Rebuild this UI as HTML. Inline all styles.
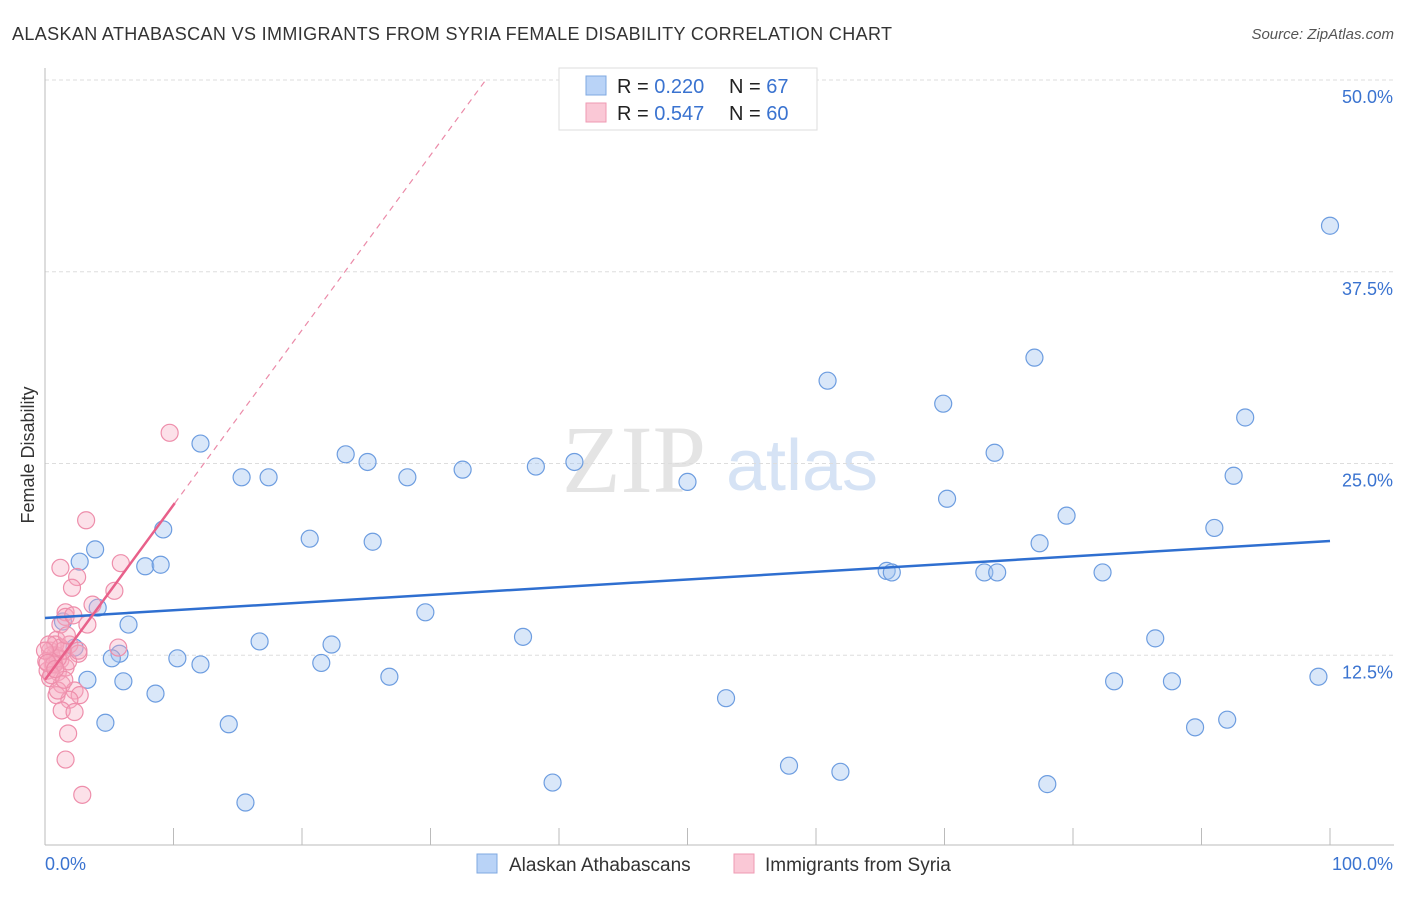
<!DOCTYPE html>
<html><head><meta charset="utf-8"><style>
body{margin:0;background:#fff;font-family:"Liberation Sans",sans-serif}
</style></head><body>
<svg id="c" width="1406" height="892" xmlns="http://www.w3.org/2000/svg" style="font-family:'Liberation Sans',sans-serif">
<text x="12" y="40" font-size="18" fill="#333" textLength="880">ALASKAN ATHABASCAN VS IMMIGRANTS FROM SYRIA FEMALE DISABILITY CORRELATION CHART</text>
<text x="1394" y="39" font-size="15" fill="#555" font-style="italic" text-anchor="end">Source: ZipAtlas.com</text>
<text x="634" y="492" font-size="96" fill="#e4e4e4" text-anchor="middle" font-family="Liberation Serif">ZIP</text>
<text x="802" y="490" font-size="72" fill="#d6e3f5" text-anchor="middle">atlas</text>
<text transform="translate(34,455) rotate(-90)" font-size="18" fill="#333" text-anchor="middle">Female Disability</text>
<g id="grid"></g><g id="pts"></g><g id="lines"></g>
<g>
<rect x="559" y="68" width="258" height="62" fill="#fff" stroke="#ddd"/>
<rect x="586" y="76" width="20" height="19" fill="#b9d3f7" stroke="#7fa8e0"/>
<rect x="586" y="103" width="20" height="19" fill="#fac8d6" stroke="#ef9ab3"/>
<text x="617" y="93" font-size="20" fill="#222">R = <tspan fill="#3a73d0">0.220</tspan></text>
<text x="729" y="93" font-size="20" fill="#222">N = <tspan fill="#3a73d0"> 67</tspan></text>
<text x="617" y="120" font-size="20" fill="#222">R = <tspan fill="#3a73d0">0.547</tspan></text>
<text x="729" y="120" font-size="20" fill="#222">N = <tspan fill="#3a73d0">60</tspan></text>
</g>
<g>
<rect x="477" y="854" width="20" height="19" fill="#b9d3f7" stroke="#7fa8e0"/>
<text x="509" y="871" font-size="19" fill="#333">Alaskan Athabascans</text>
<rect x="734" y="854" width="20" height="19" fill="#fac8d6" stroke="#ef9ab3"/>
<text x="765" y="871" font-size="19" fill="#333">Immigrants from Syria</text>
</g>
</svg>
<script>
const yTicks=[12.5,25,37.5,50];
const yTickLabels=["12.5%","25.0%","37.5%","50.0%"];
const xTicks=[0,10,20,30,40,50,60,70,80,90,100];
const blueX=[100,77.0,60.9,69.9,93.4,12.1,73.9,23.4,25.1,32.5,38.2,41.2,15.3,17.4,28.2,50.0,92.5,70.2,9.2,79.5,91.0,20.6,25.5,77.4,3.9,2.7,7.8,9.0,65.5,65.9,73.1,74.1,82.3,4.1,29.6,6.5,1.4,37.2,86.4,16.7,22.3,2.3,5.8,5.2,10.3,12.1,21.5,26.8,3.3,6.1,83.2,87.7,99.1,8.6,53.0,4.7,14.3,92.0,89.5,57.9,61.9,39.5,78.0,15.6];
const blueY=[40.5,31.9,30.4,28.9,28.0,26.3,25.7,25.6,25.1,24.6,24.8,25.1,24.1,24.1,24.1,23.8,24.2,22.7,20.7,21.6,20.8,20.1,19.9,19.8,19.4,18.6,18.3,18.4,18.0,17.9,17.9,17.9,17.9,15.6,15.3,14.5,14.7,13.7,13.6,13.4,13.2,13.0,12.6,12.3,12.3,11.9,12.0,11.1,10.9,10.8,10.8,10.8,11.1,10.0,9.7,8.1,8.0,8.3,7.8,5.3,4.9,4.2,4.1,2.9];
const pinkX=[9.7,3.2,1.2,5.9,2.5,2.1,5.4,3.7,1.6,3.3,1.6,1.2,2.2,0.9,5.7,1.9,2.6,0.4,0.8,1.2,0.6,0.2,1.0,1.6,1.8,0.4,1.3,2.3,0.9,2.7,1.9,1.3,2.3,1.8,1.6,2.9,0.8,1.4,0.5,1.0,0.1,0.7,1.2,0.3,1.7,2.6,1.0,0.5,1.5,0.0,0.2,0.8];
const pinkY=[27.0,21.3,18.2,18.5,17.6,16.9,16.7,15.8,15.3,14.5,15.0,14.5,15.1,13.5,13.0,13.2,12.6,12.8,12.5,12.2,11.9,11.5,11.4,11.7,12.1,11.0,10.6,10.2,9.9,9.9,9.6,8.9,8.8,7.4,5.7,3.4,13.2,12.8,12.5,12.3,12.1,11.9,13.0,13.2,13.8,12.8,10.2,11.2,10.9,12.8,12.0,11.6];
const blueTrend=[14.93,19.95];
const pinkTrend=[10.9,1.14];
const X=v=>45+v*12.85, Y=v=>847-v*15.34;
const ns="http://www.w3.org/2000/svg";
function mk(p,t,a){const e=document.createElementNS(ns,t);for(const k in a)e.setAttribute(k,a[k]);p.appendChild(e);return e;}
const g=document.getElementById('grid');
yTicks.forEach((t,i)=>{
 const l=mk(g,'line',{x1:45,x2:1394,y1:Y(t),y2:Y(t),stroke:'#ddd','stroke-dasharray':'4,3'});
 
 
 const tx=mk(g,'text',{x:1393,y:Y(t)+23,'font-size':18,fill:'#3a73d0','text-anchor':'end'});
 tx.textContent=yTickLabels[i];
 
 
});
const ax=mk(g,'line',{x1:45,x2:1394,y1:845,y2:845,stroke:'#bbb'});


const ay=mk(g,'line',{x1:45,x2:45,y1:68,y2:845,stroke:'#bbb'});


xTicks.forEach(t=>{const l=mk(g,'line',{x1:X(t),x2:X(t),y1:828,y2:845,stroke:'#bbb'});
 
 });
[[0,"0.0%",'start',45],[100,"100.0%",'end',1393]].forEach(d=>{const t=mk(g,'text',{x:d[3],y:870,'font-size':18,fill:'#3a73d0','text-anchor':d[2]});t.textContent=d[1];
 
 });
const P=document.getElementById('pts');
blueX.forEach((x,i)=>{const c=mk(P,'circle',{cx:X(x),cy:Y(blueY[i]),r:8.5,fill:'rgba(160,196,240,0.4)',stroke:'#6d9de0','stroke-width':1.2});
 
 });
pinkX.forEach((x,i)=>{const c=mk(P,'circle',{cx:X(x),cy:Y(pinkY[i]),r:8.5,fill:'rgba(246,168,192,0.35)',stroke:'#ee8eab','stroke-width':1.2});
 
 });
const L=document.getElementById('lines');
const bl=mk(L,'line',{x1:X(0),y1:Y(blueTrend[0]),x2:X(100),y2:Y(blueTrend[1]),stroke:'#2f6fd0','stroke-width':2.5});


const xe=10.1, xd=(50-pinkTrend[0])/pinkTrend[1];
const pl=mk(L,'line',{x1:X(0),y1:Y(pinkTrend[0]),x2:X(xe),y2:Y(pinkTrend[0]+pinkTrend[1]*xe),stroke:'#e8608a','stroke-width':2.5});


const pd=mk(L,'line',{x1:X(xe),y1:Y(pinkTrend[0]+pinkTrend[1]*xe),x2:X(xd),y2:Y(50),stroke:'#eb8aa8','stroke-width':1.2,'stroke-dasharray':'6,5'});


</script>
</body></html>
